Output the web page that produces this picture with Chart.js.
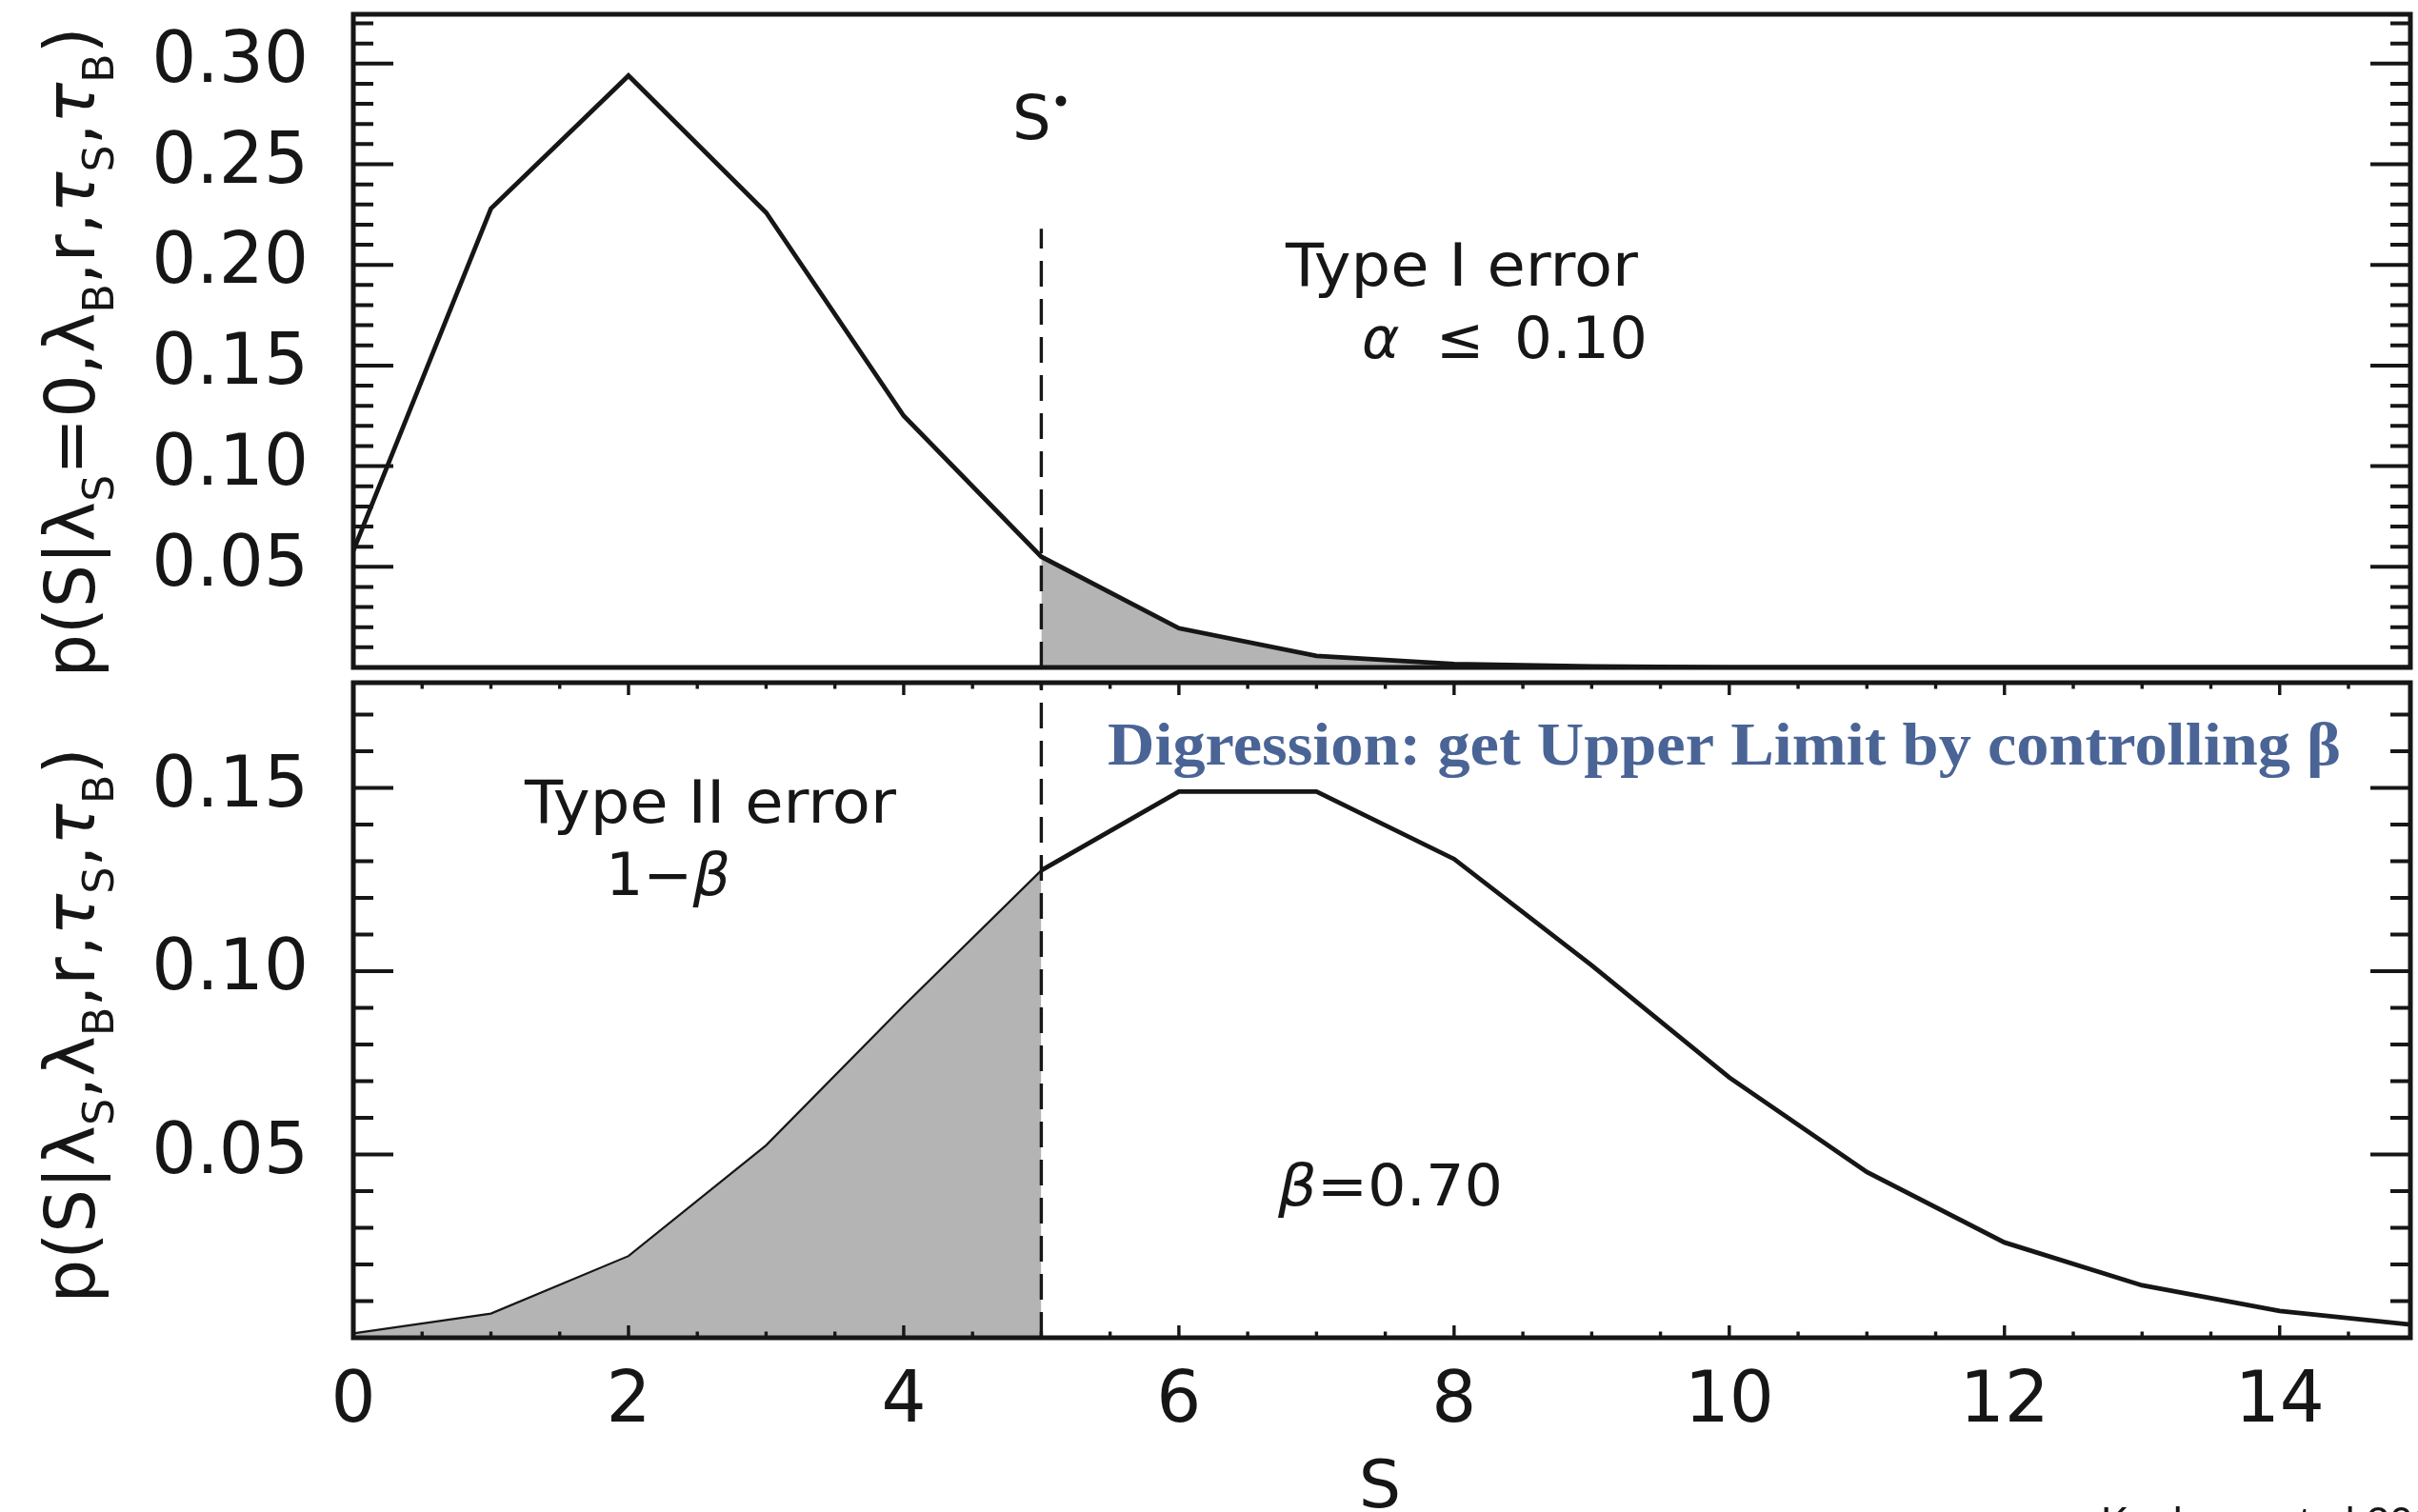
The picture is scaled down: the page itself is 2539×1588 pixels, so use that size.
<!DOCTYPE html>
<html>
<head>
<meta charset="utf-8">
<script src="https://cdn.jsdelivr.net/npm/chart.js@4.4.1/dist/chart.umd.min.js"></script>
<style>
  html, body { margin: 0; padding: 0; background: #fff; }
  #wrap { position: relative; width: 2539px; height: 1588px; overflow: hidden; background: #fff; }
  #wrap canvas { position: absolute; left: 0; top: 0; }
</style>
</head>
<body>
<div id="wrap">
  <canvas id="bottom-chart" width="2539" height="1588"></canvas>
  <canvas id="top-chart" width="2539" height="1588"></canvas>
</div>
<script>
// counts S and the two probability curves
const S_VALUES = [0, 1, 2, 3, 4, 5, 6, 7, 8, 9, 10, 11, 12, 13, 14, 15];
const P_NULL = [0.058, 0.228, 0.294, 0.226, 0.125, 0.055, 0.0195, 0.0057, 0.0017, 0.0005, 0.0001, 0, 0, 0, 0, 0];
const P_SIGNAL = [0.0012, 0.0066, 0.0223, 0.0525, 0.0906, 0.1275, 0.149, 0.149, 0.1306, 0.1016, 0.071, 0.0452, 0.026, 0.0143, 0.0073, 0.0034];
const S_STAR = 5;
const S_STAR_TOP_END = 0.218;

const X_MIN = 0;
const X_MAX = 14.95;
const Y_TOP_MAX = 0.3245;
const Y_BOTTOM_MAX = 0.1787;
const X_TICKS = [0, 2, 4, 6, 8, 10, 12, 14];
const Y_TOP_TICKS = [0.05, 0.10, 0.15, 0.20, 0.25, 0.30];
const Y_BOTTOM_TICKS = [0.05, 0.10, 0.15];
const X_MINOR_STEP = 0.5;
const Y_MINOR_STEP = 0.01;

const INK = '#161616';
const SHADE = '#b4b4b4';
const SANS = '"DejaVu Sans", sans-serif';
const W = 2539;
const H = 1588;
const PLOT_LEFT = 371;
const PLOT_RIGHT = 2531;

function toPoints(xs, ys) {
  return xs.map((x, i) => ({ x, y: ys[i] }));
}

function pickRange(points, from, to) {
  return points.filter((p) => p.x >= from && p.x <= to);
}

function minorValues(max, step, majors) {
  const out = [];
  for (let k = 1; k * step < max; k += 1) {
    const v = Math.round(k * step * 1000) / 1000;
    if (!majors.some((m) => Math.abs(m - v) < 1e-9)) out.push(v);
  }
  return out;
}

// inward IDL-style ticks on every side plus the box
function makeFrame(cfg) {
  return {
    id: 'panelFrame',
    afterDatasetsDraw(chart) {
      const { ctx, chartArea: a, scales } = chart;
      const xs = scales.x;
      const ys = scales.y;
      ctx.save();
      ctx.strokeStyle = INK;
      ctx.lineCap = 'butt';

      ctx.lineWidth = 4;
      const yMinor = minorValues(ys.max, Y_MINOR_STEP, cfg.yTicks);
      const drawY = (v, len) => {
        const py = ys.getPixelForValue(v);
        ctx.beginPath();
        ctx.moveTo(a.left, py);
        ctx.lineTo(a.left + len, py);
        ctx.moveTo(a.right, py);
        ctx.lineTo(a.right - len, py);
        ctx.stroke();
      };
      cfg.yTicks.forEach((v) => drawY(v, 42));
      yMinor.forEach((v) => drawY(v, 21));

      if (cfg.xTicks) {
        ctx.lineWidth = 3.4;
        const xMinor = minorValues(xs.max, X_MINOR_STEP, cfg.xTicks);
        const drawX = (v, len) => {
          const px = xs.getPixelForValue(v);
          ctx.beginPath();
          ctx.moveTo(px, a.bottom);
          ctx.lineTo(px, a.bottom - len);
          ctx.moveTo(px, a.top);
          ctx.lineTo(px, a.top + len);
          ctx.stroke();
        };
        cfg.xTicks.forEach((v) => drawX(v, 13));
        xMinor.forEach((v) => drawX(v, 6.5));
      }

      ctx.lineWidth = 5;
      ctx.strokeRect(a.left, a.top, a.right - a.left, a.bottom - a.top);
      ctx.restore();
    },
  };
}

function setFont(ctx, size, italic, family) {
  ctx.font = `${italic ? 'italic ' : ''}${size}px ${family || SANS}`;
}

function segmentsWidth(ctx, segs, size) {
  let w = 0;
  segs.forEach((seg) => {
    setFont(ctx, seg.sub ? size * 0.62 : size, seg.italic);
    w += ctx.measureText(seg.t).width;
  });
  return w;
}

function drawSegments(ctx, segs, x, y, size) {
  let cx = x;
  segs.forEach((seg) => {
    const s = seg.sub ? size * 0.62 : size;
    setFont(ctx, s, seg.italic);
    ctx.fillText(seg.t, cx, y + (seg.sub ? size * 0.27 : 0));
    cx += ctx.measureText(seg.t).width;
  });
}

// draws a run of segments stretched to the width it has in the figure
function drawFitted(ctx, segs, x, y, size, width) {
  ctx.save();
  const w = segmentsWidth(ctx, segs, size);
  ctx.translate(x, y);
  ctx.scale(width / w, 1);
  drawSegments(ctx, segs, 0, 0, size);
  ctx.restore();
}

// rotated axis title with subscripts, stretched to the measured length
function drawYTitle(ctx, segs, baseX, centerY, size, length) {
  ctx.save();
  ctx.translate(baseX, centerY);
  ctx.rotate(-Math.PI / 2);
  ctx.fillStyle = INK;
  ctx.textBaseline = 'alphabetic';
  ctx.textAlign = 'left';
  const w = segmentsWidth(ctx, segs, size);
  ctx.scale(length / w, 1);
  drawSegments(ctx, segs, -w / 2, 0, size);
  ctx.restore();
}

const TOP_TITLE = [
  { t: 'p(S|λ' }, { t: 'S', sub: true }, { t: '=0,λ' }, { t: 'B', sub: true },
  { t: ',r,' }, { t: 'τ', italic: true }, { t: 'S', sub: true }, { t: ',' },
  { t: 'τ', italic: true }, { t: 'B', sub: true }, { t: ')' },
];
const BOTTOM_TITLE = [
  { t: 'p(S|λ' }, { t: 'S', sub: true }, { t: ',λ' }, { t: 'B', sub: true },
  { t: ',r,' }, { t: 'τ', italic: true }, { t: 'S', sub: true }, { t: ',' },
  { t: 'τ', italic: true }, { t: 'B', sub: true }, { t: ')' },
];

const topNotes = {
  id: 'topNotes',
  afterDraw(chart) {
    const { ctx } = chart;
    ctx.save();
    ctx.fillStyle = INK;
    ctx.textAlign = 'left';
    ctx.textBaseline = 'alphabetic';

    setFont(ctx, 64);
    ctx.fillText('S', 1063, 146);
    ctx.beginPath();
    ctx.arc(1114, 106, 5.5, 0, Math.PI * 2);
    ctx.fill();

    drawFitted(ctx, [{ t: 'Type I error' }], 1350, 300, 62, 370);
    setFont(ctx, 60, true);
    ctx.fillText('α', 1430, 376);
    setFont(ctx, 60);
    ctx.fillText('≤', 1508, 376);
    drawFitted(ctx, [{ t: '0.10' }], 1590, 376, 60, 140);
    ctx.restore();

    drawYTitle(ctx, TOP_TITLE, 99, 370, 73, 683);
  },
};

const bottomNotes = {
  id: 'bottomNotes',
  afterDraw(chart) {
    const { ctx } = chart;
    ctx.save();
    ctx.fillStyle = INK;
    ctx.textAlign = 'left';
    ctx.textBaseline = 'alphabetic';

    drawFitted(ctx, [{ t: 'Type II error' }], 551, 864, 62, 390);
    drawSegments(ctx, [{ t: '1−' }, { t: 'β', italic: true }], 636, 940, 62);
    drawFitted(ctx, [{ t: 'β', italic: true }, { t: '=0.70' }], 1342, 1266, 60, 236);

    setFont(ctx, 70);
    ctx.textAlign = 'center';
    ctx.fillText('S', 1449, 1583);

    // citation, cut off by the lower edge of the figure
    ctx.textAlign = 'left';
    ctx.font = '44px "Liberation Sans", sans-serif';
    ctx.fillText('Kashyap et al 2010', 2206, 1614);

    // blue slide banner, fitted to its width in the figure
    ctx.fillStyle = '#4a6496';
    ctx.font = 'bold 64px "Liberation Serif", serif';
    const banner = 'Digression: get Upper Limit by controlling β';
    const bw = ctx.measureText(banner).width;
    ctx.translate(1163, 803);
    ctx.scale(1295 / bw, 1);
    ctx.fillText(banner, 0, 0);
    ctx.restore();

    drawYTitle(ctx, BOTTOM_TITLE, 99, 1077, 73, 583);
  },
};

function yScale(max, ticks) {
  return {
    type: 'linear',
    min: 0,
    max,
    grid: { display: false, drawTicks: false },
    border: { display: false },
    ticks: {
      font: { family: 'DejaVu Sans', size: 74 },
      color: INK,
      padding: 47,
      callback: (v) => v.toFixed(2),
    },
    afterBuildTicks: (scale) => { scale.ticks = ticks.map((value) => ({ value })); },
    afterFit: (scale) => {
      scale.width = PLOT_LEFT;
      scale.paddingTop = 0;
      scale.paddingBottom = 0;
    },
  };
}

const nullPoints = toPoints(S_VALUES, P_NULL);
const signalPoints = toPoints(S_VALUES, P_SIGNAL);

new Chart(document.querySelector('#top-chart'), {
  type: 'line',
  data: {
    datasets: [
      { data: nullPoints, borderColor: INK, borderWidth: 4.8, pointRadius: 0, fill: false },
      {
        data: [{ x: S_STAR, y: 0 }, { x: S_STAR, y: S_STAR_TOP_END }],
        borderColor: INK, borderWidth: 3.4, borderDash: [27, 13], pointRadius: 0, fill: false,
      },
      {
        data: pickRange(nullPoints, S_STAR, X_MAX + 1),
        borderColor: 'rgba(0,0,0,0)', borderWidth: 0, backgroundColor: SHADE, pointRadius: 0, fill: 'origin',
      },
    ],
  },
  options: {
    responsive: false,
    animation: false,
    events: [],
    layout: { padding: { left: 0, right: W - PLOT_RIGHT, top: 15, bottom: H - 701 } },
    plugins: { legend: { display: false }, tooltip: { enabled: false } },
    scales: {
      x: { type: 'linear', min: X_MIN, max: X_MAX, display: false },
      y: yScale(Y_TOP_MAX, Y_TOP_TICKS),
    },
  },
  plugins: [makeFrame({ yTicks: Y_TOP_TICKS }), topNotes],
});

new Chart(document.querySelector('#bottom-chart'), {
  type: 'line',
  data: {
    datasets: [
      { data: pickRange(signalPoints, S_STAR, X_MAX + 1), borderColor: INK, borderWidth: 4.8, pointRadius: 0, fill: false },
      {
        data: [{ x: S_STAR, y: 0 }, { x: S_STAR, y: Y_BOTTOM_MAX }],
        borderColor: INK, borderWidth: 3.4, borderDash: [27, 13], pointRadius: 0, fill: false,
      },
      {
        data: pickRange(signalPoints, X_MIN, S_STAR),
        borderColor: INK, borderWidth: 2.2, backgroundColor: SHADE, pointRadius: 0, fill: 'origin',
      },
    ],
  },
  options: {
    responsive: false,
    animation: false,
    events: [],
    layout: { padding: { left: 0, right: W - PLOT_RIGHT, top: 717, bottom: 0 } },
    plugins: { legend: { display: false }, tooltip: { enabled: false } },
    scales: {
      x: {
        type: 'linear',
        min: X_MIN,
        max: X_MAX,
        grid: { display: false, drawTicks: false },
        border: { display: false },
        ticks: {
          font: { family: 'DejaVu Sans', size: 74 },
          color: INK,
          padding: 24,
          maxRotation: 0,
          callback: (v) => String(v),
        },
        afterBuildTicks: (scale) => { scale.ticks = X_TICKS.map((value) => ({ value })); },
        afterFit: (scale) => {
          scale.height = H - 1405;
          scale.paddingLeft = 0;
          scale.paddingRight = 0;
        },
      },
      y: yScale(Y_BOTTOM_MAX, Y_BOTTOM_TICKS),
    },
  },
  plugins: [makeFrame({ yTicks: Y_BOTTOM_TICKS, xTicks: X_TICKS }), bottomNotes],
});
</script>
</body>
</html>
